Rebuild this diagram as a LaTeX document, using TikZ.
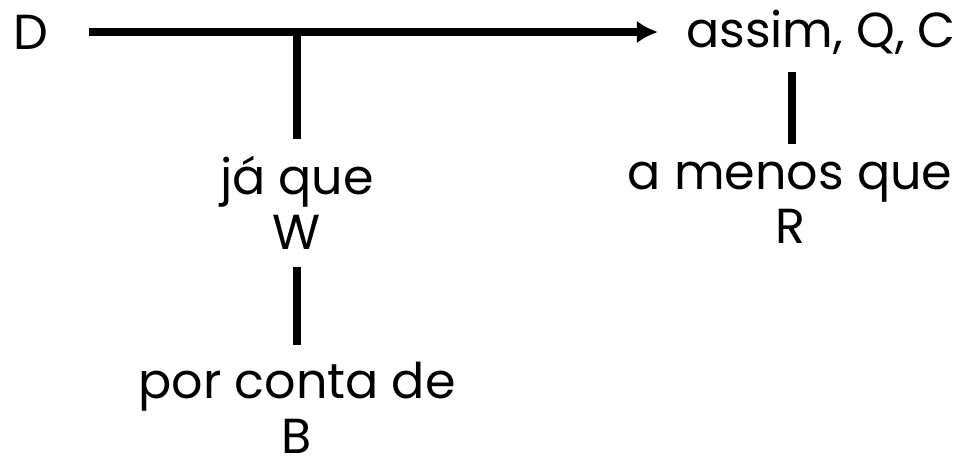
\documentclass[tikz,border=0pt]{standalone}
\usepackage{fontspec}
\setmainfont{Poppins}
\usetikzlibrary{arrows.meta}

\begin{document}
\begin{tikzpicture}[x=0.02cm, y=-0.02cm,
    lbl/.style={font=\fontsize{28}{31}\selectfont, align=center, inner sep=0pt, outer sep=10pt},
    link/.style={line width=4.5pt}]
                    \useasboundingbox (0,0) rectangle (959,467);

                    \node[lbl] (data) at (31,32) {D};
                    \node[lbl] (claim) at (821,32) {assim, Q, C};
                    \node[lbl] (warrant) at (297,203) {já que\\W};
                    \node[lbl] (rebuttal) at (790,203) {a menos que\\R};
                    \node[lbl] (backing) at (297,408) {por conta de\\B};
                    \coordinate (junction) at (297,32);

                    \draw[link, -{Latex[length=12pt, width=13pt]}, shorten <=13pt, shorten >=6pt] (data) -- (claim);
                    \draw[link] (junction) -- (warrant);
                    \draw[link] (warrant) -- (backing);
                    \draw[link] (rebuttal.north -| 792,0) -- (claim.south -| 792,0);
                \end{tikzpicture}
\end{document}
